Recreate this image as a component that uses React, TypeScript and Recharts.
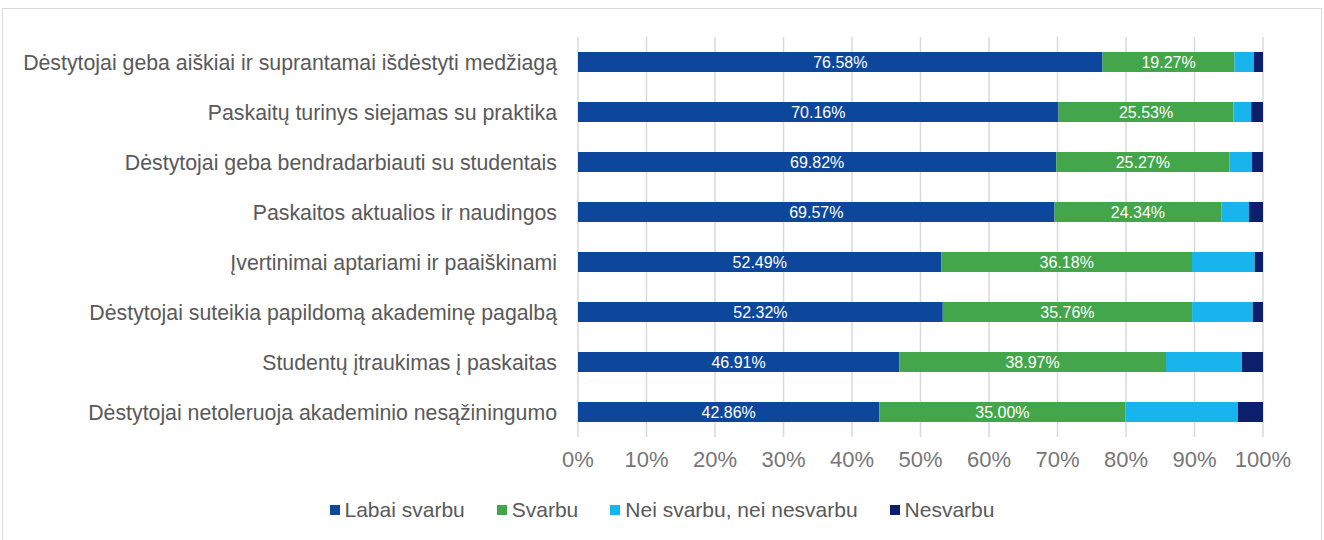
import React from "react";
import {
  BarChart,
  Bar,
  XAxis,
  YAxis,
  CartesianGrid,
  LabelList,
} from "recharts";

const categories = [
  "Dėstytojai geba aiškiai ir suprantamai išdėstyti medžiagą",
  "Paskaitų turinys siejamas su praktika",
  "Dėstytojai geba bendradarbiauti su studentais",
  "Paskaitos aktualios ir naudingos",
  "Įvertinimai aptariami ir paaiškinami",
  "Dėstytojai suteikia papildomą akademinę pagalbą",
  "Studentų įtraukimas į paskaitas",
  "Dėstytojai netoleruoja akademinio nesąžiningumo",
];

const labaiSvarbu = [76.58, 70.16, 69.82, 69.57, 52.49, 52.32, 46.91, 42.86];
const svarbu = [19.27, 25.53, 25.27, 24.34, 36.18, 35.76, 38.97, 35.0];
const neiSvarbu = [2.81, 2.58, 3.31, 4.04, 9.05, 8.7, 11.1, 16.0];
const nesvarbu = [1.34, 1.73, 1.6, 2.05, 1.2, 1.47, 3.07, 3.56];

const xTicks = [0, 0.1, 0.2, 0.3, 0.4, 0.5, 0.6, 0.7, 0.8, 0.9, 1];

const series = [
  { key: "labai", name: "Labai svarbu", color: "#0D479C" },
  { key: "svarbu", name: "Svarbu", color: "#43A64B" },
  { key: "nei", name: "Nei svarbu, nei nesvarbu", color: "#17B4EE" },
  { key: "nes", name: "Nesvarbu", color: "#0B1F6D" },
];

const data = categories.map((name, i) => ({
  name,
  labai: labaiSvarbu[i],
  svarbu: svarbu[i],
  nei: neiSvarbu[i],
  nes: nesvarbu[i],
}));

const font = "'Liberation Sans', Arial, sans-serif";

const fmt = (v: any) => Number(v).toFixed(2) + "%";

export default function App() {
  return (
    <div
      style={{
        position: "absolute",
        left: 2,
        top: 8,
        width: 1320,
        height: 540,
        border: "1px solid #d9d9d9",
        boxSizing: "border-box",
        background: "#fff",
      }}
    >
      <BarChart
        width={1318}
        height={480}
        data={data}
        layout="vertical"
        stackOffset="expand"
        barSize={20}
        margin={{ top: 28, right: 58, left: 0, bottom: 22 }}
      >
        <CartesianGrid horizontal={false} stroke="#d9d9d9" strokeWidth={1.5} />
        <XAxis
          type="number"
          domain={[0, 1]}
          ticks={xTicks}
          tickFormatter={(v: number) => Math.round(v * 100) + "%"}
          axisLine={false}
          tickLine={false}
          tickMargin={8}
          tick={{ fill: "#767676", fontSize: 22, fontFamily: font }}
        />
        <YAxis
          type="category"
          dataKey="name"
          width={575}
          axisLine={false}
          tickLine={false}
          tickMargin={15}
          tick={{ fill: "#595959", fontSize: 21.3, fontFamily: font }}
        />
        {series.map((s, idx) => (
          <Bar
            key={s.key}
            dataKey={s.key}
            name={s.name}
            stackId="a"
            fill={s.color}
            isAnimationActive={false}
          >
            {idx < 2 && (
              <LabelList
                dataKey={s.key}
                position="center"
                formatter={fmt}
                fill="#ffffff"
                style={{ fontSize: 16, fontFamily: font }}
              />
            )}
          </Bar>
        ))}
      </BarChart>
      <div
        style={{
          display: "flex",
          justifyContent: "center",
          fontFamily: font,
          fontSize: 21,
          lineHeight: "24px",
          color: "#595959",
          marginTop: 9,
        }}
      >
        {series.map((s) => (
          <div
            key={s.key}
            style={{ display: "flex", alignItems: "center", margin: "0 16px" }}
          >
            <span
              style={{
                width: 10,
                height: 10,
                background: s.color,
                display: "inline-block",
                marginRight: 5,
              }}
            />
            <span>{s.name}</span>
          </div>
        ))}
      </div>
    </div>
  );
}
